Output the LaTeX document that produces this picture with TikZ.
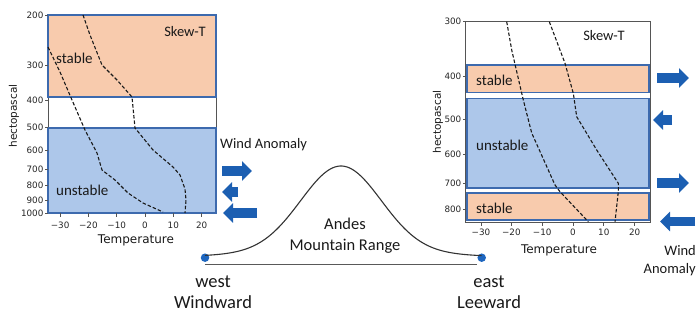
\documentclass[tikz,border=0pt]{standalone}
\usepackage{fontspec}
\setmainfont{Carlito}
\newfontfamily\mplfont{DejaVu Sans}
\usetikzlibrary{arrows.meta}
\definecolor{bandorange}{HTML}{F8CBAD}
\definecolor{bandblue}{HTML}{ADC7EA}
\definecolor{bandedge}{HTML}{3D6AAE}
\definecolor{windblue}{HTML}{1C5FB2}
\definecolor{dotblue}{HTML}{1E66BF}
\definecolor{framegray}{HTML}{555555}
\tikzset{
  band/.style={draw=bandedge, line width=1.5pt},
  stablebox/.style={band, fill=bandorange},
  unstablebox/.style={band, fill=bandblue},
  plotframe/.style={draw=framegray, line width=0.8pt},
  tickmark/.style={draw=framegray, line width=0.8pt},
  profile/.style={draw=black!90, line width=1.1pt, dash pattern=on 3.5pt off 2pt},
  ticklabel/.style={font=\mplfont\fontsize{8.8}{10}\selectfont, text=black!85, inner sep=0pt},
  axislabel/.style={font=\mplfont\fontsize{12}{14}\selectfont, text=black!90, inner sep=0pt},
  ylabelstyle/.style={font=\mplfont\fontsize{10.5}{12}\selectfont, text=black!90, rotate=90, inner sep=0pt},
  bandlabel/.style={font=\fontsize{15}{18}\selectfont, text=black!90, anchor=west, inner sep=0pt},
  titlelabel/.style={font=\fontsize{14.5}{17}\selectfont, text=black!90, inner sep=0pt},
  windlabel/.style={font=\fontsize{14.5}{18}\selectfont, text=black!90, inner sep=0pt},
  windarrow/.style={draw=windblue, line width=9.5pt, -{Triangle[length=10pt,width=19pt]}},
  mountainlabel/.style={font=\fontsize{16.5}{21}\selectfont, text=black!90, align=center, inner sep=0pt},
  sidelabel/.style={font=\fontsize{18.5}{20.5}\selectfont, text=black!90, align=center, inner sep=0pt},
  enddot/.style={circle, fill=dotblue, inner sep=0pt, minimum size=8.5pt},
}
\begin{document}
\begin{tikzpicture}[x=1pt, y=-1pt]
\useasboundingbox (0,0) rectangle (700,322);

% ================= LEFT CHART =================
\draw[plotframe] (48,15) rectangle (216,213);
\draw[stablebox] (48,15) rectangle (216,97);
\draw[unstablebox] (48,128) rectangle (216,213);
% y ticks
\foreach \p/\y in {200/15,300/64.9,400/100.3,500/127.7,600/150.2,700/169.2,800/185.6,900/200.1,1000/213}{
  \draw[tickmark] (48,\y) -- (44.8,\y) node[ticklabel, anchor=east, xshift=-1pt, name=ly\p] {\p};
}
% x ticks
\foreach \t/\x/\lab in {a/60.1/−30,b/88.4/−20,c/116.7/−10,d/145/0,e/173.3/10,f/201.6/20}{
  \draw[tickmark] (\x,213) -- (\x,216.5);
  \node[ticklabel, name=lx\t] at (\x,225) {\lab};
}
% profiles
\draw[profile] (83,15) -- (90,35) -- (102,65) -- (117,80) -- (132,97) -- (135,128) -- (153,150) -- (173,167) -- (180,175) -- (185,189) -- (186,200) -- (185,213);
\draw[profile] (48,47) -- (60,72) -- (72,100) -- (85,130) -- (97,153) -- (102,170) -- (115,180) -- (128,193) -- (143,203) -- (163,212);
% labels
\node[titlelabel, name=lskew] at (185,32) {Skew-T};
\node[bandlabel, name=lstable] at (56,58) {stable};
\node[bandlabel, name=lunstable] at (56,190) {unstable};
\node[axislabel, name=ltemp] at (136,240) {Temperature};
\node[ylabelstyle, name=lhpa] at (14,116) {hectopascal};
\node[windlabel, anchor=west, name=lwind] at (220,145) {Wind Anomaly};
% wind arrows
\draw[windarrow] (222,171) -- (252,171);
\draw[windarrow] (238,192) -- (222,192);
\draw[windarrow] (257,213) -- (223,213);

% ================= RIGHT CHART =================
\draw[plotframe] (465,21.7) rectangle (650,222);
\draw[stablebox] (467,65) rectangle (649,92.7);
\draw[unstablebox] (467,98.3) rectangle (649,188);
\draw[stablebox] (467,193) rectangle (649,220);
\foreach \p/\y in {300/21.7,400/76.6,500/119.3,600/154.1,700/183.5,800/209}{
  \draw[tickmark] (465,\y) -- (462.5,\y) node[ticklabel, anchor=east, xshift=-0.8pt, name=ry\p] {\p};
}
\foreach \t/\x/\lab in {a/481/−30,b/511.4/−20,c/542.2/−10,d/573/0,e/603.8/10,f/634.6/20}{
  \draw[tickmark] (\x,222) -- (\x,225.5);
  \node[ticklabel, name=rx\t] at (\x,232) {\lab};
}
\draw[profile] (506.7,21.7) -- (511.7,50) -- (523.3,100) -- (531.7,133) -- (555,185) -- (560,191.7) -- (588.3,221.7);
\draw[profile] (549.3,21.7) -- (565,63.3) -- (573.3,93.3) -- (576.7,116.7) -- (596.7,150) -- (618.3,183.3) -- (618.3,191.7) -- (615,221.7);
\node[titlelabel, name=rskew] at (604,36) {Skew-T};
\node[bandlabel, name=rstable1] at (476,80) {stable};
\node[bandlabel, name=runstable] at (476,145) {unstable};
\node[bandlabel, name=rstable2] at (476,208) {stable};
\node[axislabel, name=rtemp] at (559,250) {Temperature};
\node[ylabelstyle, name=rhpa] at (438,122) {hectopascal};
\node[windlabel, align=right, anchor=east, name=rwind] at (696,261) {Wind\\Anomaly};
\draw[windarrow] (657,78) -- (689,78);
\draw[windarrow] (672,120) -- (653,120);
\draw[windarrow] (657,183) -- (689,183);
\draw[windarrow] (695,221.5) -- (660,221.5);

% ================= MOUNTAIN =================
\node[enddot, name=west] at (205,257.7) {};
\node[enddot, name=east] at (481.7,257.7) {};
\draw[draw=black!65, line width=1.1pt] (west.south) ++(0,2) coordinate (bl) -- (bl -| east.west);
\draw[draw=black!80, line width=1.1pt] plot[domain=205:481.7, samples=120, smooth] (\x, {257.7 - 91.7*(0.93*exp(-0.5*((\x-341)/40)^2) + 0.07*exp(-0.5*((\x-341)/90)^2))});
\node[mountainlabel, name=andes] at (345,235.5) {Andes\\Mountain Range};
\node[sidelabel, name=westlab] at (213,292) {west\\Windward};
\node[sidelabel, name=eastlab] at (489,292) {east\\Leeward};
\end{tikzpicture}
\end{document}
